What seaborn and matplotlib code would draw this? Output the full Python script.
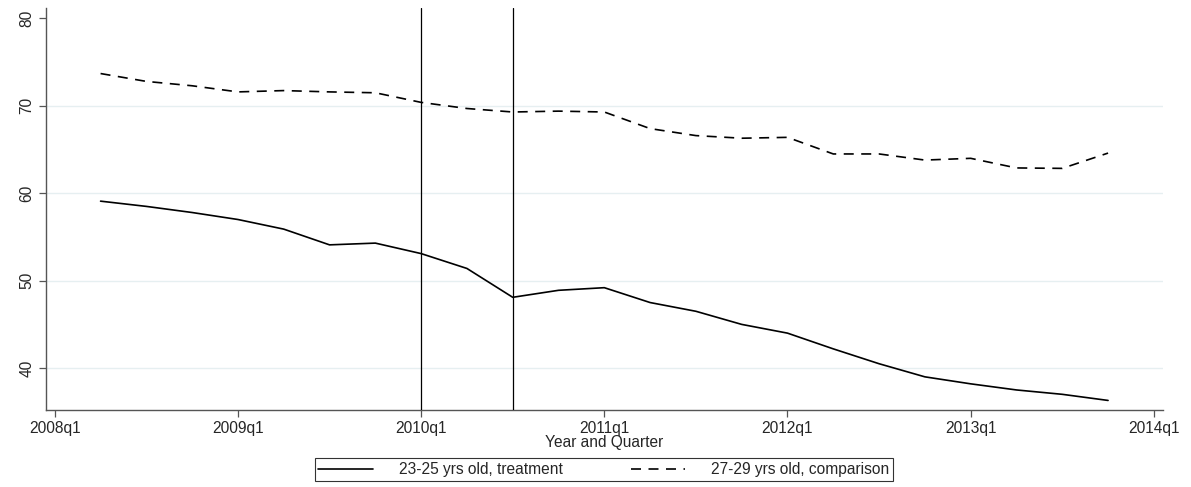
import pandas as pd
import numpy as np
import seaborn as sns
import matplotlib.pyplot as plt

sns.set_style("white")
plt.rcParams['font.family'] = ['Liberation Sans', 'DejaVu Sans']

# quarters 2008q2 .. 2013q4
quarters = ["2008q2", "2008q3", "2008q4", "2009q1", "2009q2", "2009q3", "2009q4",
            "2010q1", "2010q2", "2010q3", "2010q4", "2011q1", "2011q2", "2011q3",
            "2011q4", "2012q1", "2012q2", "2012q3", "2012q4", "2013q1", "2013q2",
            "2013q3", "2013q4"]
treatment = [59.1, 58.5, 57.8, 57.0, 55.9, 54.1, 54.3, 53.1, 51.4, 48.1, 48.9, 49.2,
             47.5, 46.5, 45.0, 44.0, 42.2, 40.5, 39.0, 38.2, 37.5, 37.0, 36.3]
comparison = [73.7, 72.8, 72.3, 71.6, 71.75, 71.6, 71.5, 70.4, 69.7, 69.3, 69.4, 69.3,
              67.4, 66.6, 66.3, 66.4, 64.5, 64.5, 63.8, 64.0, 62.9, 62.85, 64.6]
tick_labels = ["2008q1", "2009q1", "2010q1", "2011q1", "2012q1", "2013q1", "2014q1"]
policy_lines = ["2010q1", "2010q3"]
lab_t = "23-25 yrs old, treatment"
lab_c = "27-29 yrs old, comparison"

FS = 11.2


def qidx(q):
    # quarters since 2008q1
    return (int(q[:4]) - 2008) * 4 + int(q[-1]) - 1


x = [qidx(q) for q in quarters]
df = pd.DataFrame({
    "x": x + x,
    "val": treatment + comparison,
    "grp": [lab_t] * len(x) + [lab_c] * len(x),
})

fig = plt.figure(figsize=(11.91, 4.87), dpi=100)
ax = fig.add_axes([0.0383, 0.158, 0.9382, 0.8256])

sns.lineplot(data=df, x="x", y="val", style="grp", color="black", linewidth=1.2,
             dashes={lab_t: "", lab_c: (6, 4.5)}, ax=ax)

for q in policy_lines:
    ax.axvline(qidx(q), color="black", lw=0.9, zorder=3)

for v in [40, 50, 60, 70]:
    ax.axhline(v, color="#e6eff1", lw=1.0, zorder=0)

ax.set_xlim(-0.2, 24.2)
ax.set_ylim(35.2, 81.2)
ax.set_xticks([qidx(t) for t in tick_labels])
ax.set_xticklabels(tick_labels)
ax.set_yticks([40, 50, 60, 70, 80])
ax.set_yticklabels(["40", "50", "60", "70", "80"], rotation=90, va="center")
ax.tick_params(axis="both", which="both", length=5, width=0.9, color="#555555",
               labelsize=FS, direction="out", left=True, bottom=True, pad=3)
ax.set_xlabel("Year and Quarter", fontsize=FS, labelpad=-1)
ax.set_ylabel("")
sns.despine(ax=ax)
for s in ["left", "bottom"]:
    ax.spines[s].set_color("#555555")
    ax.spines[s].set_linewidth(1.0)

handles, labels = ax.get_legend_handles_labels()
ax.get_legend().remove()
leg = fig.legend(handles, labels, loc="center", bbox_to_anchor=(0.507, 0.036), ncol=2,
                 fontsize=FS, frameon=True, fancybox=False, edgecolor="black",
                 handlelength=3.5, handletextpad=1.65, columnspacing=4.4,
                 borderpad=0.25)
leg.get_frame().set_linewidth(0.8)

fig.savefig("out.png", dpi=100)
